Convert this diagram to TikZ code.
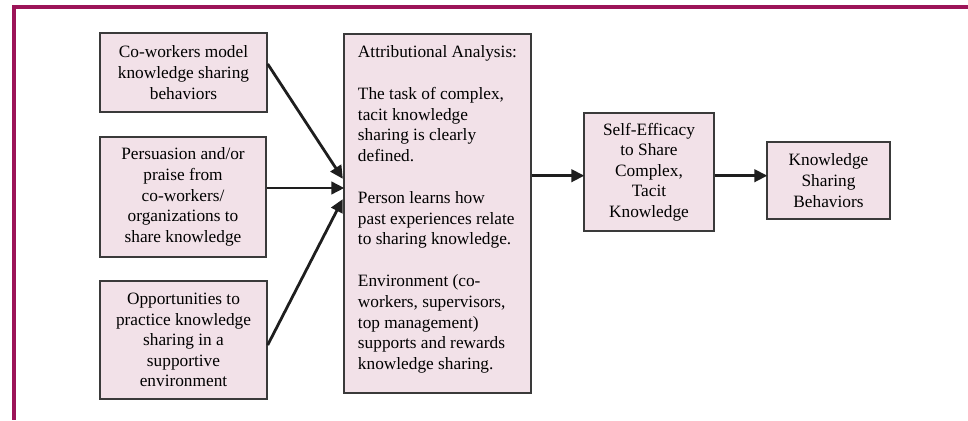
\documentclass[tikz,border=0pt]{standalone}
\usepackage{fontspec}
\setmainfont{Liberation Serif}
\usetikzlibrary{arrows.meta}
\definecolor{framecol}{HTML}{9C1458}
\definecolor{boxfill}{HTML}{F2E1E8}
\definecolor{boxline}{HTML}{3A3A3A}
\definecolor{arrowcol}{HTML}{1E1E1E}
\begin{document}
\begin{tikzpicture}[x=1pt,y=-1pt,
  box/.style={draw=boxline,line width=1.4pt,fill=boxfill,inner sep=0pt,
    align=center,font=\fontsize{17.3}{20.6}\selectfont},
  flow/.style={draw=arrowcol,line width=2.8pt,
    -{Triangle[length=13pt,width=12.5pt]},shorten >=-1pt},
  frameline/.style={draw=framecol,line width=3.2pt}]
\useasboundingbox (0,0) rectangle (968,420);
% frame edges along the top and left
\coordinate (ftl) at (14,7);
\coordinate (ftr) at (968,7);
\coordinate (fbl) at (14,420);
\draw[frameline] (ftr) -- (ftl) -- (fbl);
% input boxes
\node[box,minimum width=167pt,minimum height=79pt] (model) at (183.5,72.5)
  {Co-workers model\\knowledge sharing\\behaviors};
\node[box,minimum width=166pt,minimum height=120pt] (praise) at (183,197)
  {Persuasion and/or\\praise from\\co-workers/\\organizations to\\share knowledge};
\node[box,minimum width=167pt,minimum height=118pt] (practice) at (183.5,340)
  {Opportunities to\\practice knowledge\\sharing in a\\supportive\\environment};
% attributional analysis box (left-aligned block, centred in the box)
\node[box,minimum width=187pt,minimum height=359pt,align=left,
  font=\fontsize{17.3}{20.8}\selectfont]
  (attr) at (437.5,213.5)
  {Attributional Analysis:\\[20.8pt]
   The task of complex,\\tacit knowledge\\sharing is clearly\\defined.\\[20.8pt]
   Person learns how\\past experiences relate\\to sharing knowledge.\\[20.8pt]
   Environment (co-\\workers, supervisors,\\top management)\\supports and rewards\\knowledge sharing.\\[-9pt]};
% outcome boxes
\node[box,minimum width=130pt,minimum height=118pt] (efficacy) at (649,172)
  {Self-Efficacy\\to Share\\Complex,\\Tacit\\Knowledge};
\node[box,minimum width=123pt,minimum height=77pt] (behave) at (828.5,180.5)
  {Knowledge\\Sharing\\Behaviors};
% connectors
\coordinate (inA) at ([yshift=35.5pt]attr.west);
\coordinate (inB) at ([yshift=25.5pt]attr.west);
\coordinate (inC) at ([yshift=13.5pt]attr.west);
\draw[flow] ([yshift=8.5pt]model.east) -- ([xshift=-1pt]inA);
\draw[flow] ([yshift=9pt]praise.east) -- (inB);
\draw[flow] ([yshift=-5pt]practice.east) -- ([xshift=-1pt]inC);
\draw[flow] ([yshift=37.8pt]attr.east) -- ([yshift=-3.7pt]efficacy.west);
\draw[flow] ([yshift=-3.7pt]efficacy.east) -- ([yshift=4.8pt]behave.west);
\end{tikzpicture}
\end{document}
